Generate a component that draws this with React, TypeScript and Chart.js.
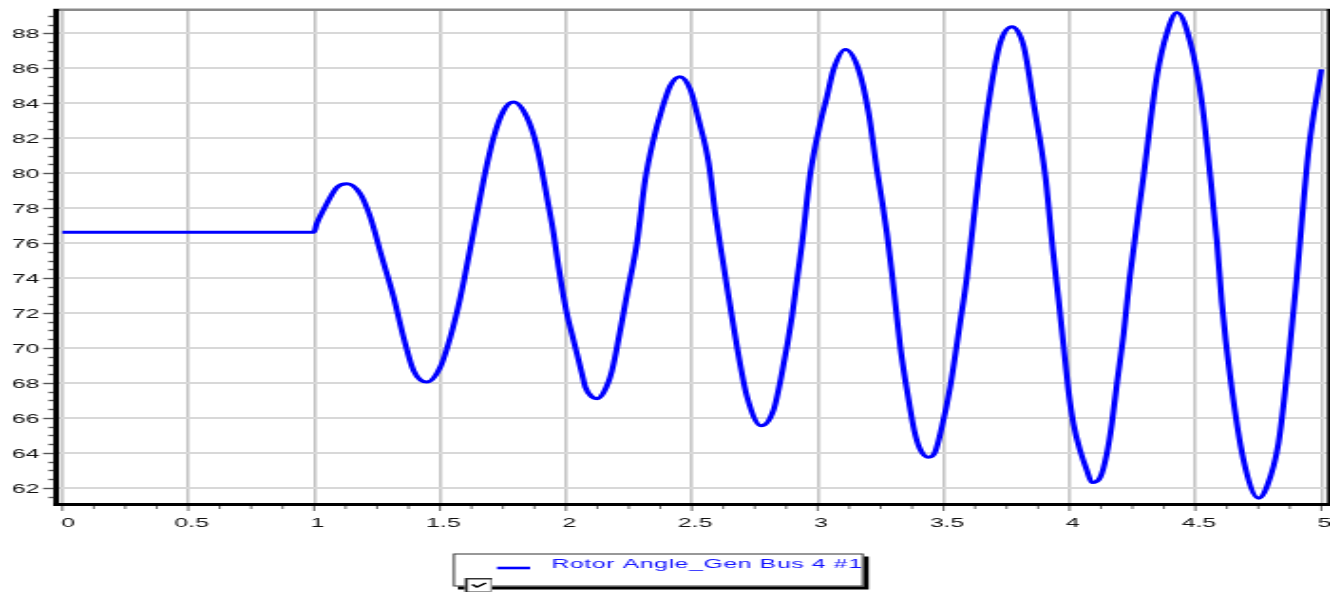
import React, { useEffect, useRef } from 'react';
import { Chart, registerables } from 'chart.js';

Chart.register(...registerables);

// ---- data (time in s, rotor angle in degrees) ----
const timeS: number[] = [
  0, 1.0, 1.01, 1.038, 1.091, 1.131, 1.183, 1.223, 1.269, 1.316, 1.355, 1.395,
  1.448, 1.501, 1.541, 1.581, 1.627, 1.673, 1.713, 1.753, 1.792, 1.845, 1.885,
  1.927, 1.951, 1.971, 1.984, 2.004, 2.024, 2.044, 2.064, 2.077, 2.104, 2.123,
  2.15, 2.183, 2.213, 2.243, 2.282, 2.315,
  2.348, 2.381, 2.414, 2.452, 2.494, 2.527, 2.567, 2.593, 2.62, 2.646, 2.679,
  2.719, 2.776, 2.825, 2.858, 2.898, 2.938, 2.971, 3.01, 3.037, 3.063, 3.11,
  3.162, 3.202, 3.235, 3.255, 3.275, 3.295, 3.328, 3.348, 3.366, 3.383, 3.406,
  3.44, 3.466, 3.493, 3.526, 3.563, 3.593, 3.639, 3.685, 3.725, 3.772, 3.818,
  3.857, 3.904, 3.934, 3.957, 3.977, 3.996, 4.016, 4.043, 4.07, 4.089, 4.122,
  4.148, 4.168, 4.188, 4.215, 4.239, 4.294, 4.347, 4.387, 4.427,
  4.48, 4.526, 4.559, 4.586, 4.605, 4.638, 4.691, 4.751, 4.784, 4.83, 4.87,
  4.903, 4.95, 5.0,
];
const rotorAngle: number[] = [
  76.62, 76.62, 77.1, 77.92, 79.2, 79.4, 78.82, 77.49, 75.2, 72.9, 70.62, 68.71,
  68.05, 68.9, 70.62, 72.9, 76.2, 79.6, 82.06, 83.59, 84.07, 83.21, 81.5,
  78.45, 76.55, 74.62, 73.48, 71.95, 70.8, 69.67, 68.52, 67.76, 67.19, 67.1,
  67.46, 68.7, 70.8, 73.1, 76.0, 79.64,
  81.93, 83.65, 84.99, 85.52, 84.79, 83.07, 80.6, 77.73, 75.25, 72.96, 70.1,
  67.23, 65.55, 66.47, 68.57, 71.81, 76.0, 80.0, 82.86, 84.39, 85.94, 87.08,
  85.94, 83.46, 80.21, 78.45, 76.55, 74.26, 70.06, 68.15, 66.62, 65.3, 64.23,
  63.75, 64.04, 65.47, 67.76, 71.2, 74.1, 79.83, 84.6, 87.47, 88.38, 87.27,
  84.03, 79.83, 75.6, 72.71, 70.04, 67.55, 65.64, 64.1, 62.96, 62.3, 62.6,
  63.93, 65.65, 67.93, 70.8, 74.0, 79.83, 85.55, 88.04, 89.19,
  87.47, 84.03, 79.83, 76.0, 72.58, 68.37, 63.6, 61.41, 62.07, 64.56, 69.33,
  74.1, 81.36, 85.94,
];
const seriesLabel = 'Rotor Angle_Gen Bus 4 #1';

const xTickValues: number[] = [0, 0.5, 1, 1.5, 2, 2.5, 3, 3.5, 4, 4.5, 5];
const xTickLabels: string[] = ['0', '0.5', '1', '1.5', '2', '2.5', '3', '3.5', '4', '4.5', '5'];
const yTickValues: number[] = [62, 64, 66, 68, 70, 72, 74, 76, 78, 80, 82, 84, 86, 88];
const yTickLabels: string[] = ['62', '64', '66', '68', '70', '72', '74', '76', '78', '80', '82', '84', '86', '88'];
const xMinorStep = 0.125;
const yMinorStep = 0.5;

// logical canvas is stretched horizontally like the original bitmap
const PAGE_W = 1330;
const PAGE_H = 597;
const SX = 1.9;
const W = PAGE_W / SX;

const FONT = '13px "Liberation Sans", Arial, sans-serif';

const decor = {
  id: 'decor',
  afterDraw(chart: any) {
    const ctx: CanvasRenderingContext2D = chart.ctx;
    const { left, right, top, bottom } = chart.chartArea;
    const xs = chart.scales.x;
    const ys = chart.scales.y;
    ctx.save();

    // frame
    ctx.fillStyle = '#8a8a8a';
    ctx.fillRect(left - 3, top - 2.5, W - left + 3, 2.5);
    ctx.fillStyle = '#000';
    ctx.fillRect(left - 3, top - 2, 3, bottom - top + 5);
    ctx.fillRect(left - 3, bottom, W - left + 3, 3);
    ctx.fillRect(right, top - 2, W - right, bottom - top + 5);

    // y ticks
    ctx.strokeStyle = '#555';
    ctx.lineWidth = 1.4;
    for (let v = Math.ceil(ys.min / yMinorStep) * yMinorStep; v <= ys.max; v += yMinorStep) {
      const y = Math.round(ys.getPixelForValue(v)) + 0.5;
      const major = Math.abs(v / 2 - Math.round(v / 2)) < 1e-6;
      ctx.beginPath();
      ctx.moveTo(major ? left - 8.4 : left - 5.6, y);
      ctx.lineTo(left - 3, y);
      ctx.stroke();
    }
    // x ticks
    ctx.strokeStyle = '#666';
    ctx.lineWidth = 1;
    for (let t = 0; t <= 5 + 1e-9; t += xMinorStep) {
      const x = xs.getPixelForValue(t);
      const major = Math.abs(t / 0.5 - Math.round(t / 0.5)) < 1e-6;
      ctx.beginPath();
      ctx.moveTo(x, bottom + 3);
      ctx.lineTo(x, bottom + (major ? 8 : 6));
      ctx.stroke();
    }

    // tick labels
    ctx.font = FONT;
    ctx.fillStyle = '#111';
    ctx.textBaseline = 'alphabetic';
    ctx.textAlign = 'right';
    yTickValues.forEach((v, i) => {
      const y = ys.getPixelForValue(v);
      ctx.fillText(yTickLabels[i], 20.7, y + 4.8);
    });
    ctx.textAlign = 'center';
    xTickValues.forEach((v, i) => {
      const x = xs.getPixelForValue(v);
      ctx.fillText(xTickLabels[i], x + (i === 0 ? 3.2 : 1.8), 526.6);
    });

    // legend
    const L = 238.4, T = 553.5, R = 454.6, B = 586.5;
    ctx.fillStyle = '#000';
    ctx.fillRect(L + 2.6, T + 3, R - L, B - T);
    ctx.fillStyle = '#fff';
    ctx.fillRect(L, T, R - L, B - T);
    ctx.strokeStyle = '#333';
    ctx.lineWidth = 1;
    ctx.strokeRect(L + 0.5, T + 0.5, R - L - 1, B - T - 1);

    // checkbox
    const cx = 244.7, cy = 578, cw = 14.2, ch = 14;
    ctx.fillStyle = '#fff';
    ctx.fillRect(cx, cy, cw, ch);
    ctx.strokeStyle = '#999';
    ctx.lineWidth = 1;
    ctx.strokeRect(cx + 0.5, cy + 0.5, cw - 1, ch - 1);
    ctx.strokeStyle = '#333';
    ctx.lineWidth = 1.5;
    ctx.beginPath();
    ctx.moveTo(cx + 0.75, cy + ch);
    ctx.lineTo(cx + 0.75, cy + 0.75);
    ctx.lineTo(cx + cw, cy + 0.75);
    ctx.stroke();
    ctx.strokeStyle = '#000';
    ctx.lineWidth = 1.6;
    ctx.beginPath();
    ctx.moveTo(cx + 3.8, cy + 6.5);
    ctx.lineTo(cx + 6.3, cy + 9);
    ctx.lineTo(cx + 11, cy + 5);
    ctx.stroke();

    // sample line + label
    ctx.strokeStyle = '#0000ff';
    ctx.lineWidth = 2.6;
    ctx.beginPath();
    ctx.moveTo(261.6, 568);
    ctx.lineTo(279, 568);
    ctx.stroke();
    ctx.fillStyle = '#1010ff';
    ctx.font = FONT;
    ctx.textAlign = 'left';
    (ctx as any).letterSpacing = '0.35px';
    ctx.fillText(seriesLabel, 290.2, 568.3);
    ctx.restore();
  },
};

export default function App() {
  const ref = useRef<HTMLCanvasElement>(null);
  useEffect(() => {
    const canvas = ref.current;
    if (!canvas) return;
    const chart = new Chart(canvas, {
      type: 'line',
      data: {
        datasets: [
          {
            label: seriesLabel,
            data: timeS.map((t, i) => ({ x: t, y: rotorAngle[i] })),
            borderColor: '#0000ff',
            borderWidth: 3.1,
            pointRadius: 0,
            cubicInterpolationMode: 'monotone',
            fill: false,
          },
        ],
      },
      options: {
        animation: false,
        responsive: false,
        devicePixelRatio: 1,
        events: [],
        layout: { padding: { left: 0, right: W - 698.4, top: 11, bottom: 0 } },
        plugins: { legend: { display: false }, tooltip: { enabled: false } },
        scales: {
          x: {
            type: 'linear',
            min: -0.0131,
            max: 5.0226,
            afterBuildTicks: (s: any) => {
              s.ticks = xTickValues.map((v) => ({ value: v }));
            },
            afterFit: (s: any) => {
              s.height = PAGE_H - 503;
            },
            ticks: { display: false },
            grid: { color: '#c4c4c4', lineWidth: 1.6, drawTicks: false },
            border: { display: false },
          },
          y: {
            type: 'linear',
            min: 61.13,
            max: 89.28,
            afterBuildTicks: (s: any) => {
              s.ticks = yTickValues.map((v) => ({ value: v }));
            },
            afterFit: (s: any) => {
              s.width = 31.05;
            },
            ticks: { display: false },
            grid: { color: '#d8d8d8', lineWidth: 2, drawTicks: false },
            border: { display: false },
          },
        },
      } as any,
      plugins: [decor],
    });
    return () => chart.destroy();
  }, []);
  return (
    <div style={{ position: 'absolute', left: 0, top: 0, width: PAGE_W, height: PAGE_H, background: '#fff' }}>
      <canvas
        ref={ref}
        width={Math.round(W)}
        height={PAGE_H}
        style={{ width: PAGE_W + 'px', height: PAGE_H + 'px', display: 'block' }}
      />
    </div>
  );
}
